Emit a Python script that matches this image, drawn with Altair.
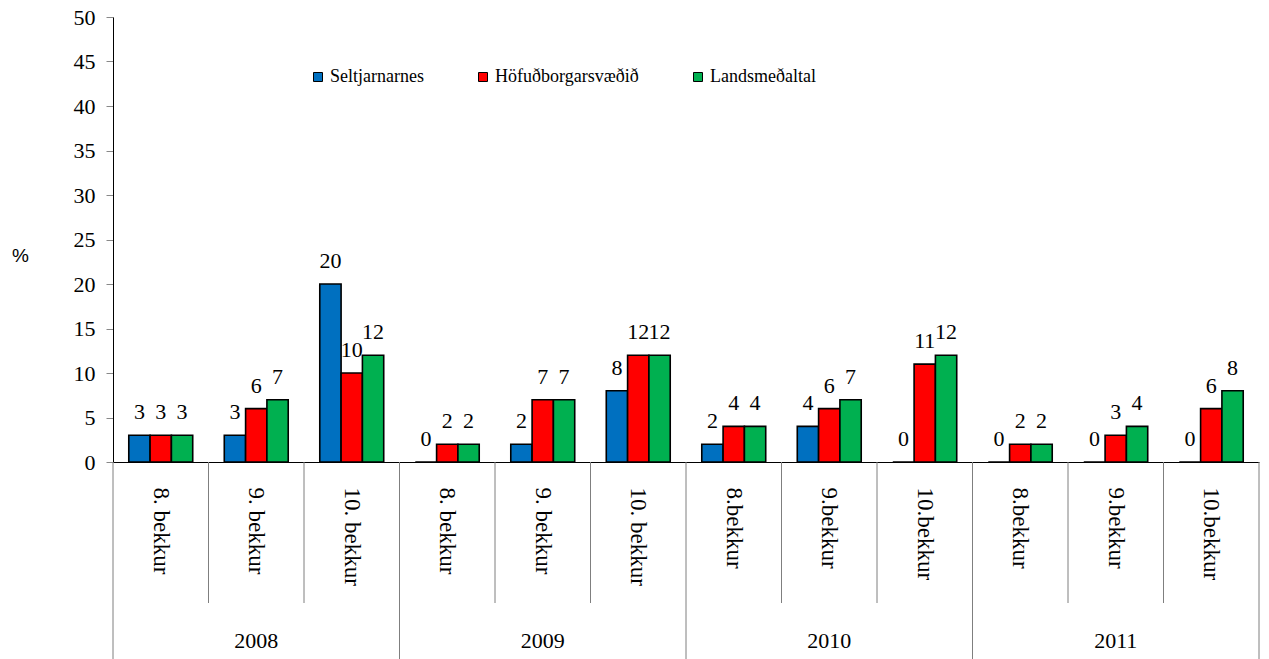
import altair as alt
import pandas as pd

years = ["2008", "2009", "2010", "2011"]
grades = [
    ["8. bekkur", "9. bekkur", "10. bekkur"],
    ["8. bekkur", "9. bekkur", "10. bekkur"],
    ["8.bekkur", "9.bekkur", "10.bekkur"],
    ["8.bekkur", "9.bekkur", "10.bekkur"],
]
series = ["Seltjarnarnes", "Höfuðborgarsvæðið", "Landsmeðaltal"]
colors = ["#0070C0", "#FF0000", "#00B050"]
seltjarnarnes = [3, 3, 20, 0, 2, 8, 2, 4, 0, 0, 0, 0]
hofudborg = [3, 6, 10, 2, 7, 12, 4, 6, 11, 2, 3, 6]
landsmedaltal = [3, 7, 12, 2, 7, 12, 4, 7, 12, 2, 4, 8]
y_ticks = list(range(0, 51, 5))

W = 1146
H = 445
SERIF = "Liberation Serif"

keys = []
for y, gl in zip(years, grades):
    for g in gl:
        keys.append(f"{y}|{g}")

rows = []
for s, vals in zip(series, [seltjarnarnes, hofudborg, landsmedaltal]):
    for k, v in zip(keys, vals):
        rows.append({"key": k, "series": s, "value": v})
df = pd.DataFrame(rows)

xscale = alt.Scale(domain=keys, paddingInner=0, paddingOuter=0)
xoscale = alt.Scale(domain=series, paddingInner=0, paddingOuter=0.74)
yscale = alt.Scale(domain=[0, 50], nice=False)

xaxis = alt.Axis(title=None, labelAngle=90, ticks=False, tickSize=0,
                 labelPadding=25, labelFontSize=23, labelFont=SERIF,
                 labelColor="black", domainColor="black", domainWidth=1,
                 labelExpr="split(datum.label, '|')[1]", labelLimit=300)
yaxis = alt.Axis(title="%", titleAngle=0, titleX=-93, titleY=238,
                 titleAlign="center", titleBaseline="middle",
                 titleFont="Liberation Sans", titleFontSize=19,
                 titleFontWeight="normal", titleColor="black",
                 values=y_ticks, tickSize=7, tickColor="#888888",
                 labelPadding=11, labelFontSize=22, labelFont=SERIF,
                 labelColor="black", domainColor="black", grid=False)

bars = alt.Chart(df).mark_bar(stroke="black", strokeWidth=1.6).encode(
    x=alt.X("key:N", scale=xscale, axis=xaxis),
    xOffset=alt.XOffset("series:N", scale=xoscale),
    y=alt.Y("value:Q", scale=yscale, axis=yaxis),
    fill=alt.Fill("series:N", scale=alt.Scale(domain=series, range=colors),
                  legend=alt.Legend(title=None, orient="none", legendX=196, legendY=51,
                                    direction="horizontal", symbolType="square",
                                    symbolSize=81, symbolStrokeColor="black",
                                    symbolStrokeWidth=1, labelFont=SERIF,
                                    labelFontSize=18, labelColor="black", labelOffset=3,
                                    columnPadding=50)),
)

labels = alt.Chart(df).mark_text(font=SERIF, fontSize=22,
                                 baseline="alphabetic", dy=-16, color="black").encode(
    x=alt.X("key:N", scale=xscale, axis=xaxis),
    xOffset=alt.XOffset("series:N", scale=xoscale),
    y=alt.Y("value:Q", scale=yscale, axis=yaxis),
    text=alt.Text("value:Q"),
)

sep_df = pd.DataFrame({"key": keys, "idx": list(range(len(keys)))})
short_sep = alt.Chart(sep_df).transform_filter("datum.idx % 3 != 0").mark_rule(
    color="#7f7f7f", strokeWidth=1).encode(
    x=alt.X("key:N", scale=xscale, bandPosition=0, axis=xaxis),
    y=alt.value(H), y2=alt.value(H + 141),
)
long_sep = alt.Chart(sep_df).transform_filter("datum.idx % 3 == 0").mark_rule(
    color="#7f7f7f", strokeWidth=1).encode(
    x=alt.X("key:N", scale=xscale, bandPosition=0, axis=xaxis),
    y=alt.value(H), y2=alt.value(H + 197),
)
end_sep = alt.Chart(pd.DataFrame({"key": [keys[-1]]})).mark_rule(
    color="#7f7f7f", strokeWidth=1).encode(
    x=alt.X("key:N", scale=xscale, bandPosition=1, axis=xaxis),
    y=alt.value(H), y2=alt.value(H + 197),
)

year_df = pd.DataFrame({"year": years, "key": [keys[i * 3 + 1] for i in range(len(years))]})
year_text = alt.Chart(year_df).mark_text(font=SERIF, fontSize=22,
                                         baseline="middle", color="black").encode(
    x=alt.X("key:N", scale=xscale, axis=xaxis),
    y=alt.value(H + 179),
    text="year:N",
)

chart = alt.layer(bars, labels, short_sep, long_sep, end_sep, year_text).properties(
    width=W, height=H,
    autosize=alt.AutoSizeParams(type="none"),
    padding={"left": 105, "top": 9, "right": 2, "bottom": 197},
    background="white",
).configure_view(stroke=None)

chart.save("out.html", embed_options={"renderer": "svg", "actions": False})
